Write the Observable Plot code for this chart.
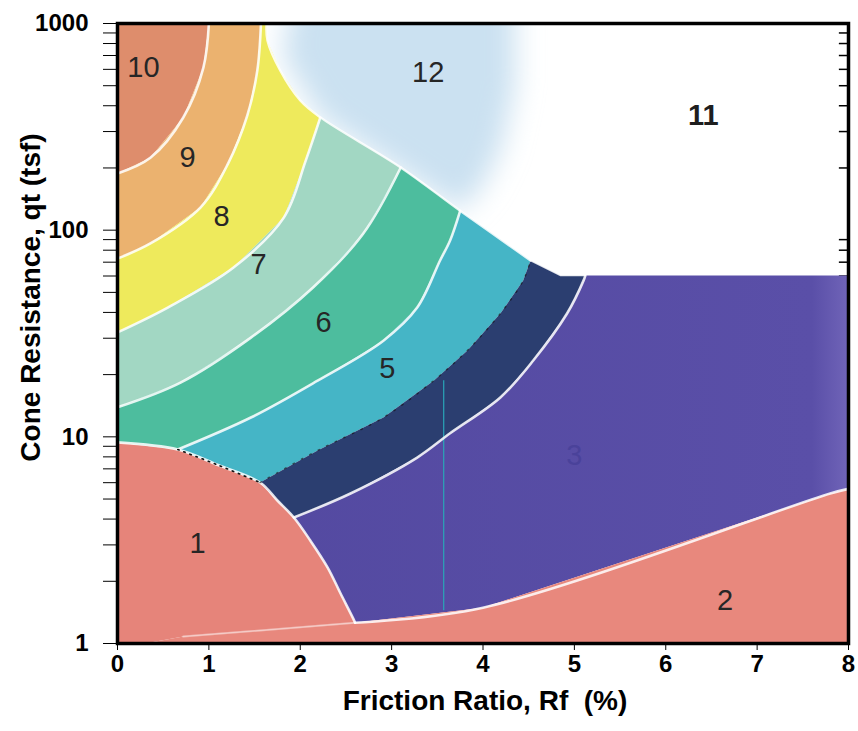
<!DOCTYPE html>
<html><head><meta charset="utf-8">
<script src="https://cdn.jsdelivr.net/npm/d3@7"></script>
<script src="https://cdn.jsdelivr.net/npm/@observablehq/plot@0.6"></script>
<style>body{margin:0;background:#fff;} #chart svg{display:block}</style>
</head><body><div id="chart"></div>
<script>
// ---- boundary curves: [Rf (%), qt (tsf)] ----
const L1   = [[0,9.4],[0.66,8.68],[1.1,7.3],[1.56,6.01],[1.75,4.92],[1.93,4.07],[2.11,3.15],[2.30,2.33],[2.44,1.75],[2.58,1.32],[2.60,1.26]];
const Lfaint = [[0.72,1.08],[2.60,1.26]];
const L2   = [[2.60,1.26],[4.0,1.49],[7.8,5.32],[8,5.6]];
const L34  = [[1.93,4.07],[2.55,5.32],[3.28,7.94],[3.64,10.4],[4.19,15.5],[4.55,23.4],[4.92,39.5],[5.10,57.0],[5.12,60.3]];
const L45  = [[1.56,6.01],[2.19,8.59],[2.91,12.4],[3.46,18.7],[3.83,26.2],[4.19,39.5],[4.44,57.0],[4.52,71.3]];
const navyTop = [[4.52,71.3],[4.85,60.3],[5.12,60.3]];
const L56  = [[0.66,8.68],[1.46,12.4],[2.19,18.7],[2.91,29.2],[3.28,42.2],[3.53,71.3],[3.64,89.1],[3.75,124]];
const L67  = [[0,13.9],[0.69,18.3],[1.46,30.2],[2.14,52.8],[2.69,96.3],[3.10,201]];
const L78  = [[0,32.0],[0.55,42.2],[1.27,65.9],[1.82,115],[2.06,217],[2.22,351]];
const L89  = [[0,72.9],[0.36,86.2],[0.91,129],[1.21,210],[1.42,358],[1.53,592],[1.57,1000]];
const L910 = [[0,188],[0.36,224],[0.72,351],[0.94,612],[1.0,1000]];
const B12  = [[1.63,1000],[1.64,827],[1.78,592],[2.00,424],[2.22,351],[3.10,201],[3.75,124],[4.52,71.3]];
const zone12Area = [[1.95,1500],[4.35,1500],[4.35,500],[4.2,250],[4.0,165],[3.75,124],[2.22,351],[1.8,700]];
const zone3Top = 60.3;

// zone labels
const zoneLabels = ["1","2","5","6","7","8","9","10","12"];
const labelRf    = [0.875,6.65,2.954,2.254,1.543,1.138,0.766,0.284,3.40];
const labelQt    = [3.05,1.61,21.4,35.7,68.2,116,224,612,579];
const boldLabel  = {t: "11", rf: 6.41, qt: 358};
const faintLabel = {t: "3", rf: 5.0, qt: 8.1};

// colours
const zoneColors = {
  z1: "#e6847a", z2: "#e8887d", z3: "url(#grad3)", z4: "#2b3e70", z5: "#45b5c6",
  z6: "#4dbd9e", z7: "#a2d7c3", z8: "#eeea5c", z9: "#ebb26f", z10: "#de8d6c", z12: "#cbe1f1"
};

// ticks
const xTicks = [0,1,2,3,4,5,6,7,8];
const yMajor = [1,10,100,1000];
const yTicks = [];
for (const dec of [1,10,100]) for (let k = 1; k <= 9; k++) yTicks.push(k*dec);
yTicks.push(1000);
const yMinor = yTicks.filter(v => !yMajor.includes(v));
const artifact = {rf: 3.57, q1: 1.44, q2: 18.7};

const rev = a => a.slice().reverse();

const zones = {
  z10: [...L910, [0,1000]],
  z9:  [...L89, ...rev(L910)],
  z8:  [...L78, ...rev(B12.slice(0,5)), ...rev(L89)],
  z7:  [...L67, ...rev(B12.slice(4,6)), ...rev(L78)],
  z6:  [L1[0], ...L56, ...rev(B12.slice(5,7)), ...rev(L67)],
  z5:  [...L1.slice(1,4), ...L45, ...rev(B12.slice(6,8)), ...rev(L56)],
  z4:  [...L1.slice(3,6), ...L34, ...rev(navyTop), ...rev(L45)],
  z3:  [...L1.slice(5), ...L2, [8, zone3Top], ...rev(L34)],
  z2:  [[0.3,1], ...Lfaint, ...L2, [8,1]],
  z1:  [[0,1], ...L1, ...rev(Lfaint), [0.3,1]]
};

const poly = (pts, fill) => Plot.line(pts, {x: d => d[0], y: d => d[1], fill, stroke: "none", curve: "linear-closed"});
const wline = (pts, o = {}) => Plot.line(pts, {x: d => d[0], y: d => d[1], stroke: "white", strokeWidth: 2.6, strokeOpacity: 0.85, curve: "catmull-rom", ...o});

const plot = Plot.plot({
  width: 858, height: 731,
  marginLeft: 117, marginRight: 10, marginTop: 23, marginBottom: 88,
  style: {fontFamily: "'Liberation Sans', Arial, sans-serif", fontSize: "24px", fontWeight: "bold", color: "black", background: "white", overflow: "visible"},
  x: {domain: [0,8], ticks: xTicks, tickSize: 7, tickPadding: 4, label: null, tickFormat: d => String(d)},
  y: {type: "log", domain: [1,1000], ticks: yTicks, tickFormat: d => yMajor.includes(d) ? String(d) : "", tickSize: 14, tickPadding: 15, label: null},
  marks: [
    Plot.ruleY(yMinor, {y: d => d, x1: 7.9, x2: 8, stroke: "black", strokeWidth: 1.5}),
    poly(zone12Area, zoneColors.z12),
    ...Object.keys(zones).map(k => poly(zones[k], zoneColors[k])),
    Plot.ruleX([artifact], {x: "rf", y1: "q1", y2: "q2", stroke: "#2aa6b8", strokeWidth: 1.2}),
    wline(L910), wline(L89), wline(L78), wline(L67), wline(L56), wline(L34), wline(L1), wline(L2),
    wline(B12, {strokeWidth: 2.2}), wline(navyTop, {strokeWidth: 1.5, curve: "linear"}),
    wline(Lfaint, {strokeOpacity: 0.45, strokeWidth: 2}),
    Plot.line(L1.slice(1,4), {x: d => d[0], y: d => d[1], stroke: "#111", strokeWidth: 1.6, strokeDasharray: "1.5,5", curve: "catmull-rom"}),
    Plot.line(L45, {x: d => d[0], y: d => d[1], stroke: "#111", strokeWidth: 1.4, strokeDasharray: "1.5,8", strokeOpacity: 0.6, curve: "catmull-rom"}),
    Plot.text(zoneLabels.map((t,i) => ({t, x: labelRf[i], y: labelQt[i]})), {
      x: "x", y: "y", text: "t", fontSize: 29, fontWeight: "normal", fill: "#262626"
    }),
    Plot.text([faintLabel], {x: "rf", y: "qt", text: "t", fontSize: 29, fontWeight: "normal", fill: "#4a429a"}),
    Plot.text([boldLabel], {x: "rf", y: "qt", text: "t", fontSize: 29, fontWeight: "bold", fill: "#1e1e1e"}),
    Plot.frame({stroke: "black", strokeWidth: 3.5}),
    Plot.text(["Friction Ratio, Rf  (%)"], {text: d => d, frameAnchor: "bottom", dy: 66, dx: 2, fontSize: 28, fontWeight: "bold"}),
    Plot.text(["Cone Resistance, qt (tsf)"], {text: d => d, frameAnchor: "left", textAnchor: "middle", rotate: -90, dx: -86, dy: -36, fontSize: 28, fontWeight: "bold"})
  ]
});

document.getElementById("chart").appendChild(plot);
const svgEl = plot.tagName.toLowerCase() === "svg" ? plot : plot.querySelector("svg");
const svg = d3.select(svgEl);
const defs = svg.insert("defs", ":first-child");
defs.append("filter").attr("id", "blur12").attr("filterUnits", "userSpaceOnUse")
  .attr("x", 117).attr("y", 23).attr("width", 731).attr("height", 620)
  .append("feGaussianBlur").attr("stdDeviation", 14);
const g3 = defs.append("linearGradient").attr("id", "grad3").attr("gradientUnits", "userSpaceOnUse")
  .attr("x1", 117).attr("x2", 848).attr("y1", 0).attr("y2", 0);
g3.append("stop").attr("offset", 0).attr("stop-color", "#52489f");
g3.append("stop").attr("offset", 0.95).attr("stop-color", "#5a4fa8");
g3.append("stop").attr("offset", 1).attr("stop-color", "#7064b8");
svg.selectAll("[fill='" + zoneColors.z12 + "']").attr("filter", "url(#blur12)");
</script>
</body></html>
